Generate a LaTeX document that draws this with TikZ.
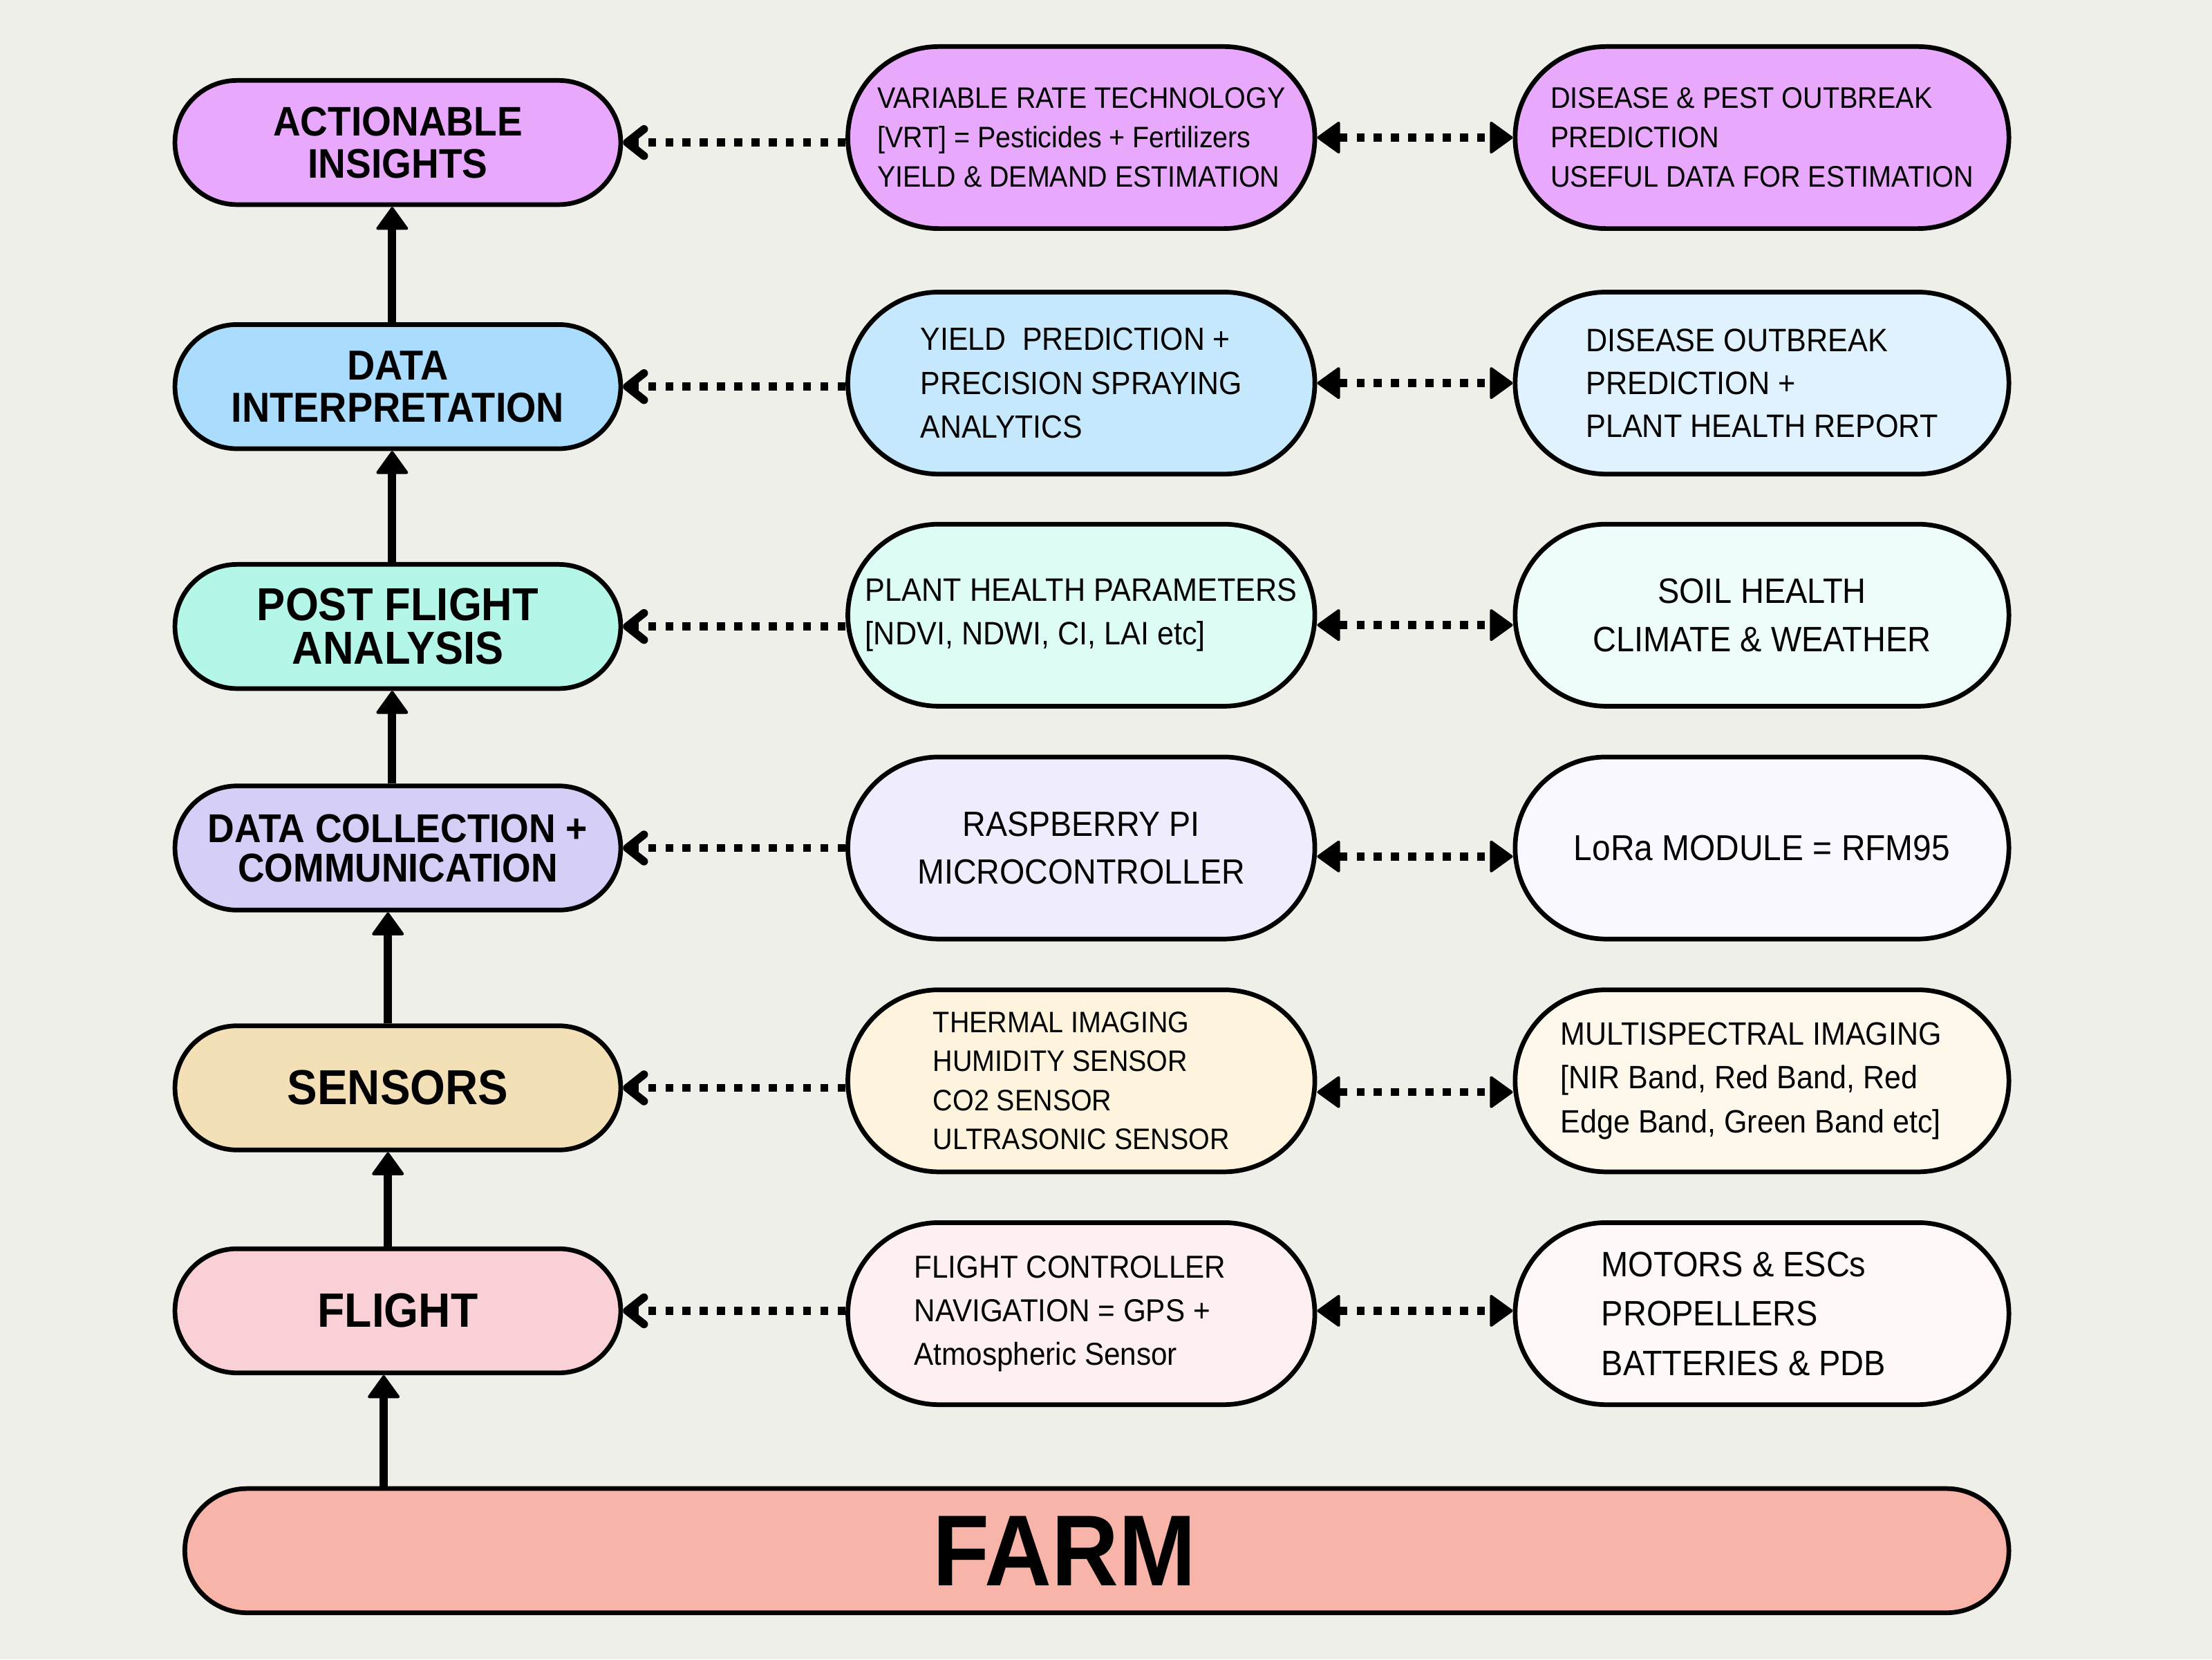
\documentclass[tikz,border=0pt]{standalone}
\usepackage{fontspec}
\setmainfont{Liberation Sans}[FakeStretch=0.92]
\usetikzlibrary{shapes.misc,arrows.meta}
\newcommand\setfs[2]{\fontsize{#1}{#2}\selectfont}

\definecolor{paper}{HTML}{EEEFE9}
\definecolor{violet}{HTML}{E8A9FC}
\definecolor{blueA}{HTML}{AADDFD}
\definecolor{blueB}{HTML}{C5E8FD}
\definecolor{blueC}{HTML}{DFF2FD}
\definecolor{mintA}{HTML}{B4F6E8}
\definecolor{mintB}{HTML}{DCFCF4}
\definecolor{mintC}{HTML}{EEFDF9}
\definecolor{lavA}{HTML}{D5CEF6}
\definecolor{lavB}{HTML}{EFEDFD}
\definecolor{lavC}{HTML}{F8F8FE}
\definecolor{sandA}{HTML}{F4E0B6}
\definecolor{sandB}{HTML}{FEF3DC}
\definecolor{sandC}{HTML}{FEF8EC}
\definecolor{roseA}{HTML}{F8D0D5}
\definecolor{roseB}{HTML}{FEF0F0}
\definecolor{roseC}{HTML}{FEF8F8}
\definecolor{farmfill}{HTML}{F8B4A8}

\tikzset{
  stage/.style={rounded rectangle, draw=black, line width=3.3pt,
    minimum width=316pt, minimum height=88pt, inner sep=0pt,
    align=center},
  info/.style={rounded rectangle, draw=black, line width=3.3pt,
    minimum width=331pt, minimum height=129pt, inner sep=0pt, align=left},
  infor/.style={info, minimum width=350pt},
  uparrow/.style={line width=6pt,
    -{Triangle[round,length=17pt,width=24pt,line width=2pt]}},
  feedarrow/.style={line width=5.7pt, dash pattern=on 5.7pt off 6.5pt,
    -{Straight Barb[round,length=12pt,width=19pt]}},
  linkarrow/.style={line width=5.7pt, dash pattern=on 5.7pt off 6.5pt,
    {Triangle[round,length=17pt,width=24pt,line width=2pt]}-{Triangle[round,length=17pt,width=24pt,line width=2pt]}},
}

\begin{document}
\begin{tikzpicture}[x=1pt,y=-1pt]
\fill[paper] (0,0) rectangle (1568,1176);
\useasboundingbox (0,0) rectangle (1568,1176);

% stages of the pipeline (left column)
\node[stage, fill=violet, font=\bfseries\setfs{29.3}{30}] (L1) at (282,101) {ACTIONABLE\\INSIGHTS};
\node[stage, fill=blueA, font=\bfseries\setfs{29.7}{30}] (L2) at (282,274) {DATA\\INTERPRETATION};
\node[stage, fill=mintA, font=\bfseries\setfs{32.8}{31}] (L3) at (282,444) {POST FLIGHT\\ANALYSIS};
\node[stage, fill=lavA, font=\bfseries\setfs{28.5}{28}] (L4) at (282,601) {DATA COLLECTION +\\COMMUNICATION};
\node[stage, fill=sandA, font=\bfseries\setfs{34.8}{36}] (L5) at (282,771) {SENSORS};
\node[stage, fill=roseA, font=\bfseries\setfs{34.2}{36}] (L6) at (282,929) {FLIGHT};
\node[stage, fill=farmfill, minimum width=1293pt, font=\bfseries\setfs{71.5}{70}] (farm) at (777.5,1099) {FARM\hspace*{46pt}};

% details (middle column)
\node[info, fill=violet, font=\setfs{21}{28}] (M1) at (766.5,97.5) {VARIABLE RATE TECHNOLOGY\\{[VRT] = Pesticides + Fertilizers}\\YIELD \& DEMAND ESTIMATION};
\node[info, fill=blueB, font=\setfs{22.8}{31}] (M2) at (766.5,271.5) {YIELD\ \ PREDICTION +\\PRECISION SPRAYING\hspace*{9pt}\\ANALYTICS};
\node[info, fill=mintB, font=\setfs{23}{31}] (M3) at (766.5,436) {PLANT HEALTH PARAMETERS\\{[NDVI, NDWI, CI, LAI etc]}};
\node[info, fill=lavB, align=center, font=\setfs{24.8}{34}] (M4) at (766.5,601) {RASPBERRY PI\\MICROCONTROLLER};
\node[info, fill=sandB, font=\setfs{21}{27.7}] (M5) at (766.5,766) {THERMAL IMAGING\\HUMIDITY SENSOR\\CO2 SENSOR\\ULTRASONIC SENSOR};
\node[info, fill=roseB, font=\setfs{22.5}{31}] (M6) at (766.5,931) {FLIGHT CONTROLLER\hspace*{16pt}\\NAVIGATION = GPS +\\Atmospheric Sensor};

% details (right column)
\node[infor, fill=violet, font=\setfs{21.1}{28}] (R1) at (1249,97.5) {DISEASE \& PEST OUTBREAK\\PREDICTION\\USEFUL DATA FOR ESTIMATION};
\node[infor, fill=blueC, font=\setfs{23}{30.5}] (R2) at (1249,271.5) {DISEASE OUTBREAK\\PREDICTION +\\PLANT HEALTH REPORT};
\node[infor, fill=mintC, align=center, font=\setfs{25}{34}] (R3) at (1249,436) {SOIL HEALTH\\CLIMATE \& WEATHER};
\node[infor, fill=lavC, font=\setfs{25.5}{30}] (R4) at (1249,601) {LoRa MODULE = RFM95};
\node[infor, fill=sandC, font=\setfs{22.9}{31}] (R5) at (1249,766) {MULTISPECTRAL IMAGING\\{[NIR Band, Red Band, Red}\\Edge Band, Green Band etc]\hspace*{16pt}};
\node[infor, fill=roseC, font=\setfs{25}{35}] (R6) at (1249,931) {MOTORS \& ESCs\\PROPELLERS\\BATTERIES \& PDB\hspace*{26pt}};

% upward flow between stages
\draw[uparrow] ([xshift=-10pt]L6.south |- farm.north) -- ([xshift=-10pt]L6.south);
\draw[uparrow] ([xshift=-7pt]L6.north) -- ([xshift=-7pt]L5.south);
\draw[uparrow] ([xshift=-7pt]L5.north) -- ([xshift=-7pt]L4.south);
\draw[uparrow] ([xshift=-4pt]L4.north) -- ([xshift=-4pt]L3.south);
\draw[uparrow] ([xshift=-4pt]L3.north) -- ([xshift=-4pt]L2.south);
\draw[uparrow] ([xshift=-4pt]L2.north) -- ([xshift=-4pt]L1.south);

% details feeding each stage
\foreach \i in {1,...,6}{
  \draw[feedarrow] (L\i.east -| M\i.west) -- (L\i.east);
}

% links between detail pairs
\draw[linkarrow] (M1.east) -- (R1.west);
\draw[linkarrow] (M2.east) -- (R2.west);
\draw[linkarrow] ([yshift=-7pt]M3.east) -- ([yshift=-7pt]R3.west);
\draw[linkarrow] ([yshift=-6pt]M4.east) -- ([yshift=-6pt]R4.west);
\draw[linkarrow] ([yshift=-8pt]M5.east) -- ([yshift=-8pt]R5.west);
\draw[linkarrow] ([yshift=2pt]M6.east) -- ([yshift=2pt]R6.west);
\end{tikzpicture}
\end{document}
